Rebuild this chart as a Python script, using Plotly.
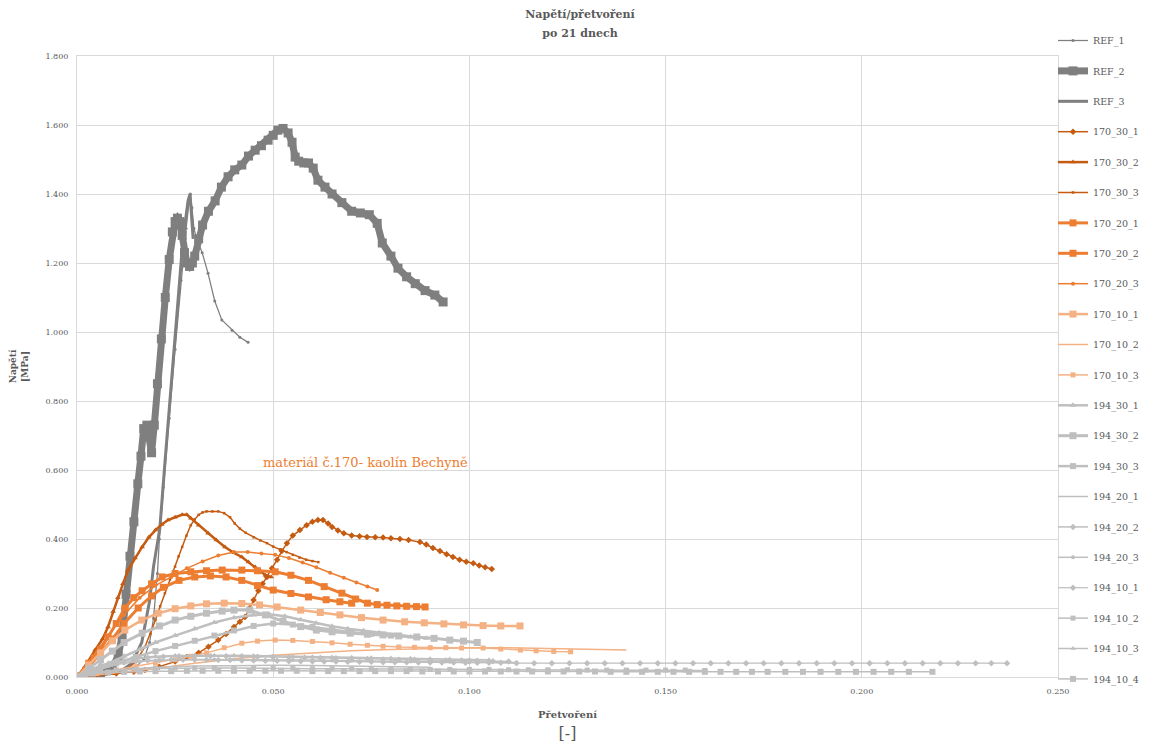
import plotly.graph_objects as go

# ---- data: (strain [-], stress [MPa]) points ----
REF_1 = [(0,0),(0.004,0.004),(0.008,0.01),(0.012,0.018),(0.015,0.03),(0.017,0.05),(0.0185,0.10),
         (0.0195,0.17),(0.0205,0.30),(0.021,0.40),(0.022,0.55),(0.0235,0.75),(0.025,0.95),(0.0265,1.15),
         (0.0278,1.30),(0.0285,1.37),(0.0289,1.40),(0.0293,1.36),(0.0298,1.30),(0.0305,1.27),(0.0319,1.23),
         (0.0334,1.17),(0.0351,1.09),(0.0369,1.035),(0.0395,1.005),(0.0415,0.985),(0.0436,0.97)]
REF_2 = [(0,0),(0.003,0.005),(0.006,0.012),(0.009,0.03),(0.0105,0.06),(0.0115,0.12),(0.0125,0.24),
         (0.0135,0.35),(0.0145,0.45),(0.0155,0.56),(0.0163,0.64),(0.017,0.72),(0.0178,0.73),(0.0184,0.70),
         (0.019,0.65),(0.0197,0.73),(0.0205,0.85),(0.0215,0.98),(0.0225,1.10),(0.0235,1.21),(0.0243,1.29),
         (0.025,1.32),(0.0256,1.33),(0.0262,1.32),(0.0268,1.28),(0.0274,1.23),(0.028,1.20),(0.0287,1.19),
         (0.0294,1.20),(0.030,1.22),(0.031,1.27),(0.032,1.31),(0.0335,1.35),(0.0352,1.38),(0.0368,1.42),
         (0.0385,1.45),(0.0402,1.47),(0.042,1.484),(0.0437,1.51),(0.0454,1.527),(0.047,1.54),(0.0487,1.556),
         (0.050,1.57),(0.0512,1.585),(0.0525,1.59),(0.0538,1.577),(0.0548,1.55),(0.0556,1.507),(0.0565,1.495),
         (0.0578,1.49),(0.059,1.49),(0.0602,1.475),(0.0614,1.44),(0.0632,1.42),(0.065,1.40),(0.0675,1.375),
         (0.070,1.35),(0.0722,1.345),(0.0745,1.34),(0.0765,1.315),(0.0778,1.258),(0.080,1.22),(0.0818,1.185),
         (0.084,1.16),(0.0862,1.14),(0.0887,1.12),(0.0912,1.107),(0.0933,1.087)]
REF_3 = [(0,0),(0.006,0.005),(0.011,0.015),(0.014,0.04),(0.0165,0.10),(0.0185,0.22),(0.0195,0.32),
         (0.0211,0.43),(0.0224,0.62),(0.0235,0.78),(0.0248,0.95),(0.026,1.12),(0.0268,1.24),(0.0276,1.32),
         (0.0283,1.38),(0.0288,1.40),(0.0292,1.33),(0.0296,1.27)]
S170_30_1 = [(0,0),(0.005,0.005),(0.010,0.01),(0.0145,0.015),(0.0173,0.02),(0.021,0.03),(0.025,0.045),
             (0.028,0.058),(0.031,0.07),(0.0335,0.088),(0.036,0.107),(0.038,0.125),(0.040,0.145),(0.0415,0.16),
             (0.0428,0.174),(0.044,0.20),(0.045,0.223),(0.0462,0.25),(0.0473,0.27),(0.0484,0.29),(0.0497,0.315),
             (0.051,0.34),(0.0522,0.365),(0.0535,0.388),(0.055,0.41),(0.0568,0.426),(0.0585,0.44),(0.060,0.45),
             (0.0614,0.455),(0.0627,0.455),(0.064,0.445),(0.065,0.435),(0.0665,0.425),(0.068,0.417),(0.070,0.41),
             (0.072,0.408),(0.0739,0.406),(0.076,0.405),(0.078,0.404),(0.080,0.402),(0.0823,0.40),(0.0845,0.397),
             (0.0874,0.391),(0.089,0.384),(0.0907,0.374),(0.0925,0.365),(0.0942,0.356),(0.0958,0.348),
             (0.0975,0.34),(0.0992,0.334),(0.101,0.33),(0.1025,0.323),(0.104,0.318),(0.1057,0.313)]
S170_30_2 = [(0,0),(0.002,0.03),(0.0046,0.078),(0.0065,0.11),(0.0079,0.145),(0.0092,0.19),(0.0104,0.23),
             (0.0117,0.27),(0.013,0.31),(0.0148,0.345),(0.0166,0.377),(0.0183,0.405),(0.020,0.426),(0.0216,0.442),
             (0.0232,0.455),(0.025,0.463),(0.0268,0.47),(0.028,0.47),(0.029,0.46),(0.031,0.44),(0.0334,0.417),
             (0.0355,0.397),(0.0377,0.377),(0.040,0.36),(0.042,0.348),(0.0437,0.333),(0.0454,0.319),
             (0.0468,0.305),(0.048,0.295),(0.0495,0.29)]
S170_30_3 = [(0,0),(0.005,0.004),(0.010,0.01),(0.013,0.025),(0.015,0.045),(0.0173,0.087),(0.0187,0.125),
             (0.020,0.165),(0.0212,0.205),(0.0224,0.243),(0.0237,0.283),(0.025,0.32),(0.0259,0.35),(0.0268,0.377),
             (0.0279,0.41),(0.029,0.44),(0.030,0.457),(0.031,0.47),(0.032,0.477),(0.033,0.48),(0.0345,0.48),
             (0.036,0.48),(0.0375,0.475),(0.039,0.463),(0.0402,0.445),(0.0415,0.43),(0.043,0.418),(0.045,0.405),
             (0.0467,0.396),(0.0484,0.388),(0.050,0.378),(0.0517,0.37),(0.0534,0.362),(0.055,0.354),
             (0.0567,0.346),(0.0584,0.34),(0.060,0.336),(0.0615,0.333)]
S170_20_1 = [(0,0),(0.003,0.04),(0.006,0.08),(0.0079,0.116),(0.010,0.155),(0.0122,0.20),(0.0145,0.23),
             (0.0166,0.25),(0.019,0.27),(0.0217,0.29),(0.025,0.30),(0.029,0.305),(0.033,0.308),(0.037,0.31),
             (0.042,0.31),(0.046,0.308),(0.0505,0.305),(0.0545,0.295),(0.059,0.28),(0.063,0.262),(0.0675,0.243),
             (0.071,0.226),(0.074,0.214),(0.0765,0.21),(0.079,0.208),(0.0815,0.206),(0.084,0.205),
             (0.0865,0.204),(0.0887,0.203)]
S170_20_2 = [(0,0),(0.003,0.03),(0.006,0.07),(0.009,0.11),(0.012,0.155),(0.0156,0.20),(0.019,0.235),
             (0.022,0.26),(0.026,0.28),(0.030,0.29),(0.034,0.293),(0.038,0.29),(0.042,0.28),(0.046,0.265),
             (0.050,0.252),(0.0545,0.242),(0.059,0.232),(0.0635,0.224),(0.067,0.218),(0.070,0.214)]
S170_20_3 = [(0,0),(0.004,0.06),(0.008,0.12),(0.012,0.18),(0.016,0.23),(0.020,0.265),(0.024,0.29),
             (0.028,0.315),(0.032,0.335),(0.036,0.352),(0.040,0.362),(0.0435,0.362),(0.047,0.358),
             (0.0505,0.354),(0.054,0.345),(0.0575,0.332),(0.061,0.318),(0.0645,0.302),(0.068,0.288),
             (0.0712,0.274),(0.074,0.262),(0.0765,0.252)]
S170_10_1 = [(0,0),(0.003,0.035),(0.006,0.07),(0.009,0.105),(0.0122,0.136),(0.0165,0.165),(0.0207,0.185),
             (0.025,0.198),(0.029,0.206),(0.033,0.212),(0.0375,0.214),(0.042,0.213),(0.0465,0.209),(0.051,0.203),
             (0.057,0.194),(0.062,0.187),(0.067,0.18),(0.0725,0.172),(0.078,0.165),(0.0835,0.16),(0.0885,0.157),
             (0.0935,0.154),(0.0985,0.151),(0.1035,0.149),(0.108,0.148),(0.1129,0.148)]
S170_10_2 = [(0,0),(0.01,0.012),(0.02,0.025),(0.03,0.04),(0.04,0.053),(0.05,0.063),(0.06,0.07),(0.07,0.076),
             (0.08,0.08),(0.09,0.083),(0.10,0.085),(0.11,0.085),(0.12,0.083),(0.13,0.081),(0.14,0.078)]
S170_10_3 = [(0,0),(0.005,0.01),(0.010,0.02),(0.015,0.03),(0.020,0.04),(0.025,0.05),(0.029,0.06),(0.033,0.07),
             (0.0375,0.085),(0.042,0.098),(0.046,0.104),(0.0505,0.107),(0.055,0.106),(0.060,0.103),(0.065,0.099),
             (0.0696,0.095),(0.074,0.092),(0.078,0.089),(0.082,0.087),(0.086,0.086),(0.090,0.085),(0.094,0.085),
             (0.098,0.084),(0.1035,0.084),(0.108,0.081),(0.113,0.078),(0.117,0.076),(0.1215,0.074),(0.1258,0.073)]
S194_30_1 = [(0,0),(0.004,0.02),(0.008,0.04),(0.012,0.06),(0.016,0.08),(0.020,0.10),(0.025,0.12),(0.030,0.14),
             (0.035,0.158),(0.040,0.172),(0.045,0.18),(0.049,0.182),(0.053,0.176),(0.057,0.166),(0.061,0.156),
             (0.065,0.147),(0.069,0.14),(0.073,0.134),(0.077,0.128),(0.081,0.122),(0.085,0.116),(0.089,0.112)]
S194_30_2 = [(0,0),(0.003,0.025),(0.006,0.05),(0.009,0.075),(0.012,0.10),(0.0166,0.127),(0.021,0.148),
             (0.025,0.165),(0.029,0.176),(0.033,0.185),(0.037,0.191),(0.040,0.194),(0.044,0.194),(0.048,0.18),
             (0.0525,0.162),(0.057,0.146),(0.061,0.136),(0.065,0.131),(0.0696,0.127),(0.074,0.124),(0.078,0.122),
             (0.082,0.119),(0.0866,0.116),(0.091,0.112),(0.095,0.107),(0.0985,0.104),(0.102,0.10)]
S194_30_3 = [(0,0),(0.005,0.02),(0.010,0.04),(0.015,0.058),(0.020,0.075),(0.025,0.09),(0.030,0.105),
             (0.035,0.12),(0.040,0.135),(0.045,0.148),(0.050,0.155),(0.055,0.152),(0.060,0.145),(0.065,0.137),
             (0.070,0.13),(0.075,0.125),(0.080,0.12)]
S194_20_1 = [(0,0),(0.005,0.012),(0.010,0.02),(0.02,0.028),(0.03,0.032),(0.04,0.034),(0.05,0.034),
             (0.06,0.033),(0.07,0.031),(0.08,0.03),(0.09,0.028)]
S194_20_2 = [(0,0),(0.003,0.02),(0.006,0.035),(0.010,0.045),(0.014,0.052),(0.018,0.056),(0.022,0.059),
             (0.026,0.06),(0.030,0.061),(0.034,0.061),(0.038,0.06),(0.042,0.06),(0.046,0.059),(0.050,0.058),
             (0.054,0.057),(0.058,0.056),(0.062,0.055),(0.066,0.054),(0.070,0.053),(0.074,0.052),(0.078,0.051),
             (0.082,0.05),(0.086,0.05),(0.090,0.049),(0.094,0.048),(0.098,0.048),(0.102,0.047),(0.106,0.046),
             (0.110,0.045)]
S194_20_3 = [(0,0),(0.004,0.02),(0.008,0.032),(0.012,0.04),(0.016,0.045),(0.02,0.048),(0.025,0.05),
             (0.03,0.051),(0.035,0.051),(0.04,0.051),(0.045,0.05),(0.05,0.05),(0.055,0.049),(0.06,0.049),
             (0.065,0.048),(0.07,0.047),(0.075,0.047),(0.08,0.046),(0.085,0.045),(0.09,0.045),(0.095,0.044),
             (0.10,0.043),(0.105,0.043),(0.112,0.042)]
S194_10_1 = [(0,0),(0.003,0.018),(0.006,0.03),(0.009,0.038),(0.012,0.043),(0.015,0.046),(0.018,0.048),
             (0.021,0.049),(0.024,0.05),(0.027,0.05),(0.030,0.05),(0.033,0.05),(0.036,0.049),(0.039,0.049),
             (0.042,0.048),(0.045,0.048),(0.048,0.047),(0.051,0.047),(0.054,0.046),(0.057,0.046),(0.060,0.045),
             (0.063,0.045),(0.066,0.045),(0.069,0.044),(0.072,0.044),(0.075,0.044),(0.078,0.043),(0.081,0.043),
             (0.084,0.043),(0.087,0.042),(0.090,0.042),(0.093,0.042),(0.096,0.042),(0.099,0.041),(0.102,0.041),
             (0.105,0.041),(0.108,0.041),(0.112,0.04),(0.1165,0.04),(0.121,0.04),(0.1255,0.04),(0.130,0.04),
             (0.1345,0.04),(0.139,0.04),(0.1435,0.04),(0.148,0.04),(0.1525,0.04),(0.157,0.04),(0.1615,0.04),
             (0.166,0.04),(0.1705,0.04),(0.175,0.04),(0.1795,0.04),(0.184,0.04),(0.1885,0.04),(0.193,0.04),
             (0.1975,0.04),(0.202,0.04),(0.2065,0.04),(0.211,0.04),(0.2155,0.04),(0.220,0.04),(0.2245,0.04),
             (0.229,0.04),(0.233,0.04),(0.237,0.04)]
S194_10_2 = [(0,0),(0.003,0.01),(0.006,0.016),(0.01,0.02),(0.015,0.023),(0.02,0.025),(0.025,0.026),
             (0.03,0.026),(0.035,0.026),(0.04,0.026),(0.045,0.025),(0.05,0.025),(0.055,0.025),(0.06,0.024),
             (0.065,0.024),(0.07,0.024),(0.075,0.023),(0.08,0.023),(0.085,0.023),(0.09,0.022),(0.095,0.022),
             (0.10,0.022),(0.105,0.022),(0.11,0.021),(0.115,0.021),(0.12,0.021),(0.125,0.021),(0.13,0.02),
             (0.135,0.02),(0.14,0.02),(0.145,0.02),(0.15,0.02),(0.155,0.02),(0.16,0.019)]
S194_10_3 = [(0,0),(0.004,0.025),(0.008,0.04),(0.012,0.05),(0.016,0.056),(0.02,0.06),(0.025,0.062),
             (0.03,0.063),(0.035,0.063),(0.04,0.063),(0.045,0.062),(0.05,0.061),(0.055,0.06),(0.06,0.059),
             (0.065,0.058),(0.07,0.057),(0.075,0.056),(0.08,0.055),(0.085,0.054),(0.09,0.053),(0.095,0.052),
             (0.10,0.051),(0.105,0.05)]
S194_10_4 = [(0,0),(0.002,0.006),(0.004,0.01),(0.008,0.013),(0.012,0.015),(0.016,0.016),(0.020,0.017),
             (0.024,0.017),(0.028,0.018),(0.032,0.018),(0.036,0.018),(0.040,0.018),(0.044,0.018),(0.048,0.018),
             (0.052,0.018),(0.056,0.018),(0.060,0.017),(0.064,0.017),(0.068,0.017),(0.072,0.017),(0.076,0.017),
             (0.080,0.017),(0.084,0.017),(0.088,0.016),(0.092,0.016),(0.096,0.016),(0.100,0.016),(0.104,0.016),
             (0.108,0.016),(0.112,0.016),(0.116,0.016),(0.120,0.016),(0.124,0.016),(0.128,0.016),(0.132,0.016),
             (0.136,0.015),(0.140,0.015),(0.144,0.015),(0.148,0.015),(0.152,0.015),(0.156,0.015),(0.160,0.015),
             (0.164,0.015),(0.168,0.015),(0.172,0.015),(0.176,0.015),(0.1805,0.015),(0.185,0.015),(0.1895,0.015),
             (0.194,0.015),(0.1985,0.015),(0.203,0.015),(0.2075,0.015),(0.212,0.015),(0.218,0.015)]

X_TICKS = [0, 0.05, 0.10, 0.15, 0.20, 0.25]
Y_TICKS = [0, 0.2, 0.4, 0.6, 0.8, 1.0, 1.2, 1.4, 1.6, 1.8]

GREY = "#7f7f7f"; DK = "#c55a11"; MD = "#ed7d31"; LT = "#f4b183"; LG = "#bfbfbf"
FONT = "DejaVu Serif"
TXT = "#595959"

# name, data, color, line width, marker symbol (None = no marker), marker size
series = [
    ("REF_1", REF_1, GREY, 1.25, "circle", 3),
    ("REF_2", REF_2, GREY, 7, "square", 9),
    ("REF_3", REF_3, GREY, 3, None, 0),
    ("170_30_1", S170_30_1, DK, 1.5, "diamond", 5),
    ("170_30_2", S170_30_2, DK, 2.5, "triangle-up", 5),
    ("170_30_3", S170_30_3, DK, 1.5, "square", 2.5),
    ("170_20_1", S170_20_1, MD, 3, "square", 7),
    ("170_20_2", S170_20_2, MD, 3, "square", 7),
    ("170_20_3", S170_20_3, MD, 1.5, "circle", 4),
    ("170_10_1", S170_10_1, LT, 2.5, "square", 7),
    ("170_10_2", S170_10_2, LT, 1.5, None, 0),
    ("170_10_3", S170_10_3, LT, 1.5, "square", 5),
    ("194_30_1", S194_30_1, LG, 2.5, "triangle-up", 6),
    ("194_30_2", S194_30_2, LG, 3, "square", 7),
    ("194_30_3", S194_30_3, LG, 2.5, "square", 6),
    ("194_20_1", S194_20_1, LG, 1.5, None, 0),
    ("194_20_2", S194_20_2, LG, 1.5, "diamond", 5),
    ("194_20_3", S194_20_3, LG, 1.5, "circle", 4),
    ("194_10_1", S194_10_1, LG, 1.25, "diamond", 5),
    ("194_10_2", S194_10_2, LG, 1.5, "square", 5),
    ("194_10_3", S194_10_3, LG, 1.5, "triangle-up", 5),
    ("194_10_4", S194_10_4, LG, 1.5, "square", 6),
]

fig = go.Figure()
for name, pts, col, lw, sym, ms in series:
    xs = [p[0] for p in pts]
    ys = [p[1] for p in pts]
    kw = dict(mode="lines")
    if sym:
        kw = dict(mode="lines+markers", marker=dict(symbol=sym, size=ms, color=col, line=dict(width=0)))
    fig.add_trace(go.Scatter(x=xs, y=ys, name=name, legendgroup=name,
                             line=dict(color=col, width=lw), **kw))

fig.add_annotation(x=0.0736, y=0.623, xref="x", yref="y", text="materiál č.170- kaolín Bechyně",
                   showarrow=False, font=dict(family=FONT, size=13, color=MD))

# page body has an 8px margin, so the figure is sized to fit the 1152x745 window
W, H = 1144, 737
fig.update_layout(
    width=W, height=H,
    paper_bgcolor="white", plot_bgcolor="white",
    margin=dict(l=69, r=94, t=48, b=68, autoexpand=False),
    font=dict(family=FONT, color=TXT, size=9),
    title=dict(text="<span style='font-size:11px'><b>Napětí/přetvoření</b></span><br>"
                    "<span style='font-size:11px'><b>po 21 dnech</b></span>",
               x=0.5, xanchor="center", y=0.999 - 9 / H, yanchor="top", pad=dict(t=0),
               font=dict(family=FONT, size=15, color=TXT)),
    showlegend=True,
    legend=dict(xref="container", yref="container", x=1045 / W, xanchor="left", y=1 - 18 / H, yanchor="top",
                font=dict(family=FONT, size=9.5, color=TXT), maxheight=730,
                itemwidth=30, tracegroupgap=11.4, bgcolor="rgba(0,0,0,0)", traceorder="grouped"),
    xaxis=dict(range=[0, 0.25], tickvals=X_TICKS, tickformat=".3f", showgrid=True, gridcolor="#d9d9d9",
               zeroline=False, showline=True, linecolor="#d9d9d9", mirror=True, ticks="", automargin=False,
               ticklabelstandoff=6, tickfont=dict(family=FONT, size=8, color=TXT),
               title=dict(text="<span style='font-size:10px'><b>Přetvoření</b></span><br>[-]",
                          font=dict(family=FONT, size=16, color=TXT), standoff=12)),
    yaxis=dict(range=[0, 1.8], tickvals=Y_TICKS, tickformat=".3f", showgrid=True, gridcolor="#d9d9d9",
               zeroline=False, showline=True, linecolor="#d9d9d9", mirror=True, ticks="", automargin=False,
               ticklabelstandoff=6, tickfont=dict(family=FONT, size=8, color=TXT),
               title=dict(text="<b>Napětí</b><br><b>[MPa]</b>", font=dict(family=FONT, size=9, color=TXT),
                          standoff=24)),
)

fig.write_html("out.html")
